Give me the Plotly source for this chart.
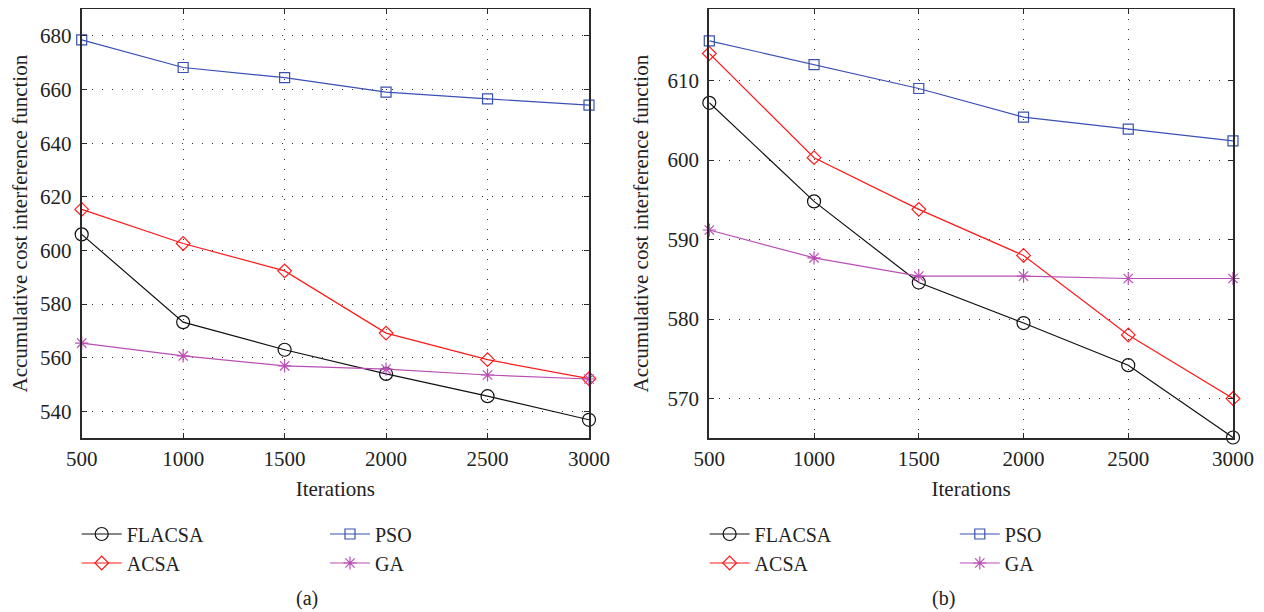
import plotly.graph_objects as go

iterations = [500, 1000, 1500, 2000, 2500, 3000]

# Panel (a)
a_flacsa = [606.0, 573.3, 563.0, 554.0, 545.7, 536.9]
a_acsa = [615.3, 602.6, 592.4, 569.2, 559.3, 552.2]
a_pso = [678.5, 668.2, 664.4, 659.0, 656.5, 654.2]
a_ga = [565.5, 560.7, 557.0, 555.8, 553.6, 552.1]

# Panel (b)
b_flacsa = [607.2, 594.8, 584.6, 579.5, 574.2, 565.1]
b_acsa = [613.4, 600.3, 593.8, 588.0, 578.0, 570.0]
b_pso = [615.0, 612.0, 609.0, 605.4, 603.9, 602.4]
b_ga = [591.2, 587.7, 585.4, 585.4, 585.1, 585.1]

series_names = ["FLACSA", "ACSA", "PSO", "GA"]
x_ticks = [500, 1000, 1500, 2000, 2500, 3000]
a_yticks = [540, 560, 580, 600, 620, 640, 660, 680]
b_yticks = [570, 580, 590, 600, 610]
y_title = "Accumulative cost interference function"
x_title = "Iterations"

FONT = "Liberation Serif"
# the page body has an 8px default margin, so the figure is 8px smaller
OFF = 8
W, H = 1264 - OFF, 612 - OFF


def px(v):
    return (v - OFF) / W


def py(v):
    return 1 - (v - OFF) / H


styles = {
    "FLACSA": dict(color="#111111", symbol="circle-open", size=13),
    "ACSA": dict(color="#ff1a1a", symbol="diamond-open", size=10.5),
    "PSO": dict(color="#3a50b4", symbol="square-open", size=10),
    "GA": dict(color="#b94fb5", symbol="asterisk-open", size=11),
}

fig = go.Figure()

panels = [
    ("x", "y", [a_flacsa, a_acsa, a_pso, a_ga], ["legend", "legend", "legend2", "legend2"]),
    ("x2", "y2", [b_flacsa, b_acsa, b_pso, b_ga], ["legend3", "legend3", "legend4", "legend4"]),
]

for xa, ya, data, legs in panels:
    for name, vals, leg in zip(series_names, data, legs):
        s = styles[name]
        fig.add_trace(go.Scatter(
            x=iterations, y=vals, name=name, mode="lines+markers",
            xaxis=xa, yaxis=ya, legend=leg, legendgroup=leg + name,
            line=dict(color=s["color"], width=1.2),
            marker=dict(symbol=s["symbol"], size=s["size"], color=s["color"],
                        line=dict(color=s["color"], width=1.2)),
            cliponaxis=False,
        ))

axis_common = dict(
    showline=True, linewidth=2, linecolor="#2a2a2a", mirror="ticks",
    ticks="inside", ticklen=5, tickwidth=1, tickcolor="#2a2a2a",
    showgrid=True, gridcolor="#333333", gridwidth=1, griddash="1px,9px",
    zeroline=False, automargin=False,
    tickfont=dict(family=FONT, size=21, color="#222222"),
    title_font=dict(family=FONT, size=21, color="#222222"),
)

fig.update_layout(
    width=W, height=H,
    margin=dict(l=0, r=0, t=0, b=0),
    paper_bgcolor="white", plot_bgcolor="white",
    font=dict(family=FONT, size=20, color="#222222"),
    xaxis=dict(domain=[px(81.7), px(589.0)], range=[500, 3000], tickvals=x_ticks,
               anchor="y", title=dict(text=x_title, standoff=12), **axis_common),
    yaxis=dict(domain=[py(438.3), py(9.0)], range=[530, 690], tickvals=a_yticks,
               ticklabelstandoff=4,
               anchor="x", title=dict(text=y_title, standoff=13), **axis_common),
    xaxis2=dict(domain=[px(709.3), px(1233.0)], range=[500, 3000], tickvals=x_ticks,
                anchor="y2", title=dict(text=x_title, standoff=12), **axis_common),
    yaxis2=dict(domain=[py(438.3), py(9.0)], range=[565, 619], tickvals=b_yticks,
                ticklabelstandoff=4,
                anchor="x2", title=dict(text=y_title, standoff=13), **axis_common),
    showlegend=True,
)

leg_common = dict(
    xanchor="left", yanchor="top", orientation="v",
    bgcolor="rgba(0,0,0,0)", borderwidth=0,
    font=dict(family=FONT, size=20, color="#222222"),
    itemwidth=40, tracegroupgap=0,
)
leg_y = py(514.5)
fig.update_layout(
    legend=dict(x=px(81.7 - 5), y=leg_y, **leg_common),
    legend2=dict(x=px(330 - 5), y=leg_y, **leg_common),
    legend3=dict(x=px(709.6 - 5), y=leg_y, **leg_common),
    legend4=dict(x=px(959.8 - 5), y=leg_y, **leg_common),
)

for label, cx in [("(a)", 307), ("(b)", 944)]:
    fig.add_annotation(text=label, x=px(cx), y=py(598), xref="paper", yref="paper",
                       showarrow=False, xanchor="center", yanchor="middle",
                       font=dict(family=FONT, size=20, color="#222222"))

fig.write_html("out.html")
